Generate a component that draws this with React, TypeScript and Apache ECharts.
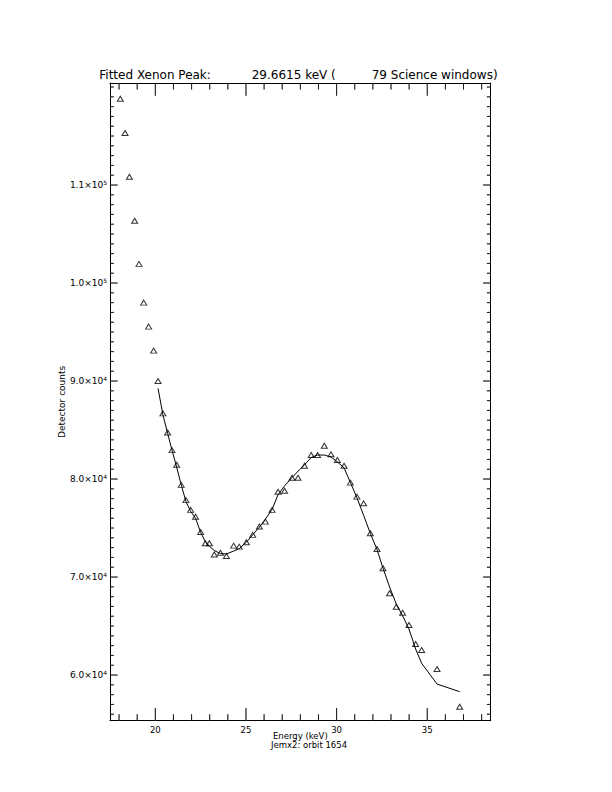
import React, { useEffect, useRef } from "react";
import * as echarts from "echarts";

// Data
const energies = [18.07, 18.33, 18.57, 18.86, 19.1, 19.36, 19.63, 19.91, 20.15, 20.42, 20.68, 20.92, 21.18, 21.43, 21.69, 21.95, 22.22, 22.5, 22.76, 22.98, 23.25, 23.59, 23.92, 24.32, 24.63, 25.02, 25.37, 25.74, 26.07, 26.44, 26.77, 27.13, 27.54, 27.87, 28.23, 28.6, 28.95, 29.32, 29.69, 30.04, 30.41, 30.76, 31.12, 31.49, 31.86, 32.23, 32.56, 32.92, 33.29, 33.64, 33.99, 34.36, 34.69, 35.54, 36.79];
const counts = [118800, 115300, 110850, 106350, 101950, 98000, 95550, 93100, 90000, 86700, 84750, 82950, 81450, 79400, 77850, 76850, 76150, 74600, 73450, 73450, 72300, 72480, 72140, 73200, 73100, 73550, 74300, 75150, 75650, 76850, 78700, 78800, 80130, 80130, 81350, 82450, 82450, 83400, 82520, 81940, 81360, 79630, 78200, 77520, 74460, 72860, 70890, 68340, 66970, 66360, 65100, 63160, 62550, 60610, 56770];
const fitCounts: (number | null)[] = [null, null, null, null, null, null, null, null, 89250, 86550, 84650, 82950, 81200, 79400, 77700, 76700, 76000, 74550, 73600, 73150, 72700, 72400, 72350, 72650, 72900, 73550, 74300, 75100, 75900, 76900, 78400, 79300, 80150, 80800, 81450, 82200, 82450, 82450, 82250, 81750, 81150, 79650, 78100, 76300, 74450, 72800, 70900, 69000, 67250, 66050, 64700, 62650, 61200, 59080, 58300];

const xMajorTicks = [20, 25, 30, 35];
const xMinorTicks = [18, 19, 21, 22, 23, 24, 26, 27, 28, 29, 31, 32, 33, 34, 36, 37, 38];
const yMajorTicks = [60000, 70000, 80000, 90000, 100000, 110000];
const yMinorTicks = [56000, 57000, 58000, 59000, 61000, 62000, 63000, 64000, 65000, 66000, 67000, 68000, 69000, 71000, 72000, 73000, 74000, 75000, 76000, 77000, 78000, 79000, 81000, 82000, 83000, 84000, 85000, 86000, 87000, 88000, 89000, 91000, 92000, 93000, 94000, 95000, 96000, 97000, 98000, 99000, 101000, 102000, 103000, 104000, 105000, 106000, 107000, 108000, 109000, 111000, 112000, 113000, 114000, 115000, 116000, 117000, 118000, 119000, 120000];

const titleLeft = "Fitted Xenon Peak:";
const titleMid = "29.6615 keV (";
const titleRight = "79 Science windows)";
const xTitle = "Energy (keV)";
const subTitle = "Jemx2: orbit 1654";
const yTitle = "Detector counts";

const X_MIN = 17.5;
const X_MAX = 38.5;
const Y_MIN = 55340;
const Y_MAX = 120410;

const FONT = "DejaVu Sans";
const BLACK = "#000";

// Inward tick marks on the frame, positioned through the axes' scales
function tickMarks(values: number[], dir: "x" | "y", side: "min" | "max", len: number, color: string) {
  const data = values.map((v) =>
    dir === "x" ? [v, side === "min" ? Y_MIN : Y_MAX] : [side === "min" ? X_MIN : X_MAX, v]
  );
  const half = len / 2;
  const offset =
    dir === "x" ? [0, side === "min" ? -half : half] : [side === "min" ? half : -half, 0];
  return {
    type: "scatter",
    clip: false,
    data,
    symbol: "rect",
    symbolSize: dir === "x" ? [1, len] : [len, 1],
    symbolOffset: offset,
    itemStyle: { color },
  };
}

function allTicks(color: string) {
  return [
    tickMarks(xMajorTicks, "x", "min", 12.7, color),
    tickMarks(xMajorTicks, "x", "max", 12.7, color),
    tickMarks(xMinorTicks, "x", "min", 6.4, color),
    tickMarks(xMinorTicks, "x", "max", 6.4, color),
    tickMarks(yMajorTicks, "y", "min", 7.6, color),
    tickMarks(yMajorTicks, "y", "max", 7.6, color),
    tickMarks(yMinorTicks, "y", "min", 3.8, color),
    tickMarks(yMinorTicks, "y", "max", 3.8, color),
  ];
}

export default function App() {
  const ref = useRef<HTMLDivElement>(null);
  useEffect(() => {
    if (!ref.current) return;
    const chart = echarts.init(ref.current, null, { renderer: "svg" });
    const points = energies.map((x, i) => [x, counts[i]]);
    const fitLine = energies
      .map((x, i) => [x, fitCounts[i]])
      .filter((p) => p[1] !== null);

    chart.setOption({
      animation: false,
      grid: { left: 110, top: 83, right: 121.3, bottom: 71.3 },
      xAxis: [
        {
          type: "value",
          position: "bottom",
          min: X_MIN,
          max: X_MAX,
          splitLine: { show: false },
          axisLine: { show: true, lineStyle: { color: BLACK, width: 1 } },
          axisTick: { show: false },
          axisLabel: { show: true, customValues: xMajorTicks, fontFamily: FONT, fontSize: 8.5, color: BLACK, margin: 5 },
          name: xTitle,
          nameLocation: "middle",
          nameGap: 11,
          nameMoveOverlap: false,
          nameTextStyle: { fontFamily: FONT, fontSize: 8.5, color: BLACK },
        },
        {
          type: "value",
          position: "top",
          min: X_MIN,
          max: X_MAX,
          splitLine: { show: false },
          axisLine: { show: true, lineStyle: { color: BLACK, width: 1 } },
          axisTick: { show: false },
          axisLabel: { show: false },
        },
      ],
      yAxis: [
        {
          type: "value",
          position: "left",
          min: Y_MIN,
          max: Y_MAX,
          splitLine: { show: false },
          axisLine: { show: true, lineStyle: { color: BLACK, width: 1 } },
          axisTick: { show: false },
          axisLabel: {
            show: true,
            customValues: yMajorTicks,
            margin: 3,
            formatter: (v: number) => {
              const e = Math.floor(Math.log10(v) + 1e-9);
              const m = (v / Math.pow(10, e)).toFixed(1);
              return `{m|${m}×10}{e|${e}}`;
            },
            rich: {
              m: { fontFamily: FONT, fontSize: 9, color: BLACK },
              e: { fontFamily: FONT, fontSize: 6, color: BLACK, padding: [0, 0, 5, 0] },
            },
          },
          name: yTitle,
          nameLocation: "middle",
          nameGap: 44,
          nameMoveOverlap: false,
          nameTextStyle: { fontFamily: FONT, fontSize: 9, color: BLACK },
        },
        {
          type: "value",
          position: "right",
          min: Y_MIN,
          max: Y_MAX,
          splitLine: { show: false },
          axisLine: { show: true, lineStyle: { color: BLACK, width: 1 } },
          axisTick: { show: false },
          axisLabel: { show: false },
        },
      ],
      graphic: [
        { type: "text", left: 99.3, top: 69, style: { text: titleLeft, font: `12px "${FONT}"`, fill: BLACK } },
        { type: "text", left: 251.7, top: 69, style: { text: titleMid, font: `12px "${FONT}"`, fill: BLACK } },
        { type: "text", left: 371.7, top: 69, style: { text: titleRight, font: `12px "${FONT}"`, fill: BLACK } },
        { type: "text", x: 309, y: 745, style: { text: subTitle, font: `8.5px "${FONT}"`, fill: BLACK, align: "center", verticalAlign: "middle" } },
      ],
      series: [
        ...allTicks("dimgray"),
        ...allTicks("black"),
        {
          name: "Fit",
          type: "line",
          data: fitLine,
          showSymbol: false,
          symbol: "none",
          lineStyle: { color: BLACK, width: 1 },
        },
        {
          name: "Counts",
          type: "scatter",
          data: points,
          symbol: "triangle",
          symbolSize: [6, 5],
          itemStyle: { color: "rgba(0,0,0,0)", borderColor: BLACK, borderWidth: 1 },
        },
      ],
    });
    return () => chart.dispose();
  }, []);
  return (
    <div
      ref={ref}
      style={{ position: "absolute", left: 0, top: 0, width: 612, height: 792, background: "#fff" }}
    />
  );
}
